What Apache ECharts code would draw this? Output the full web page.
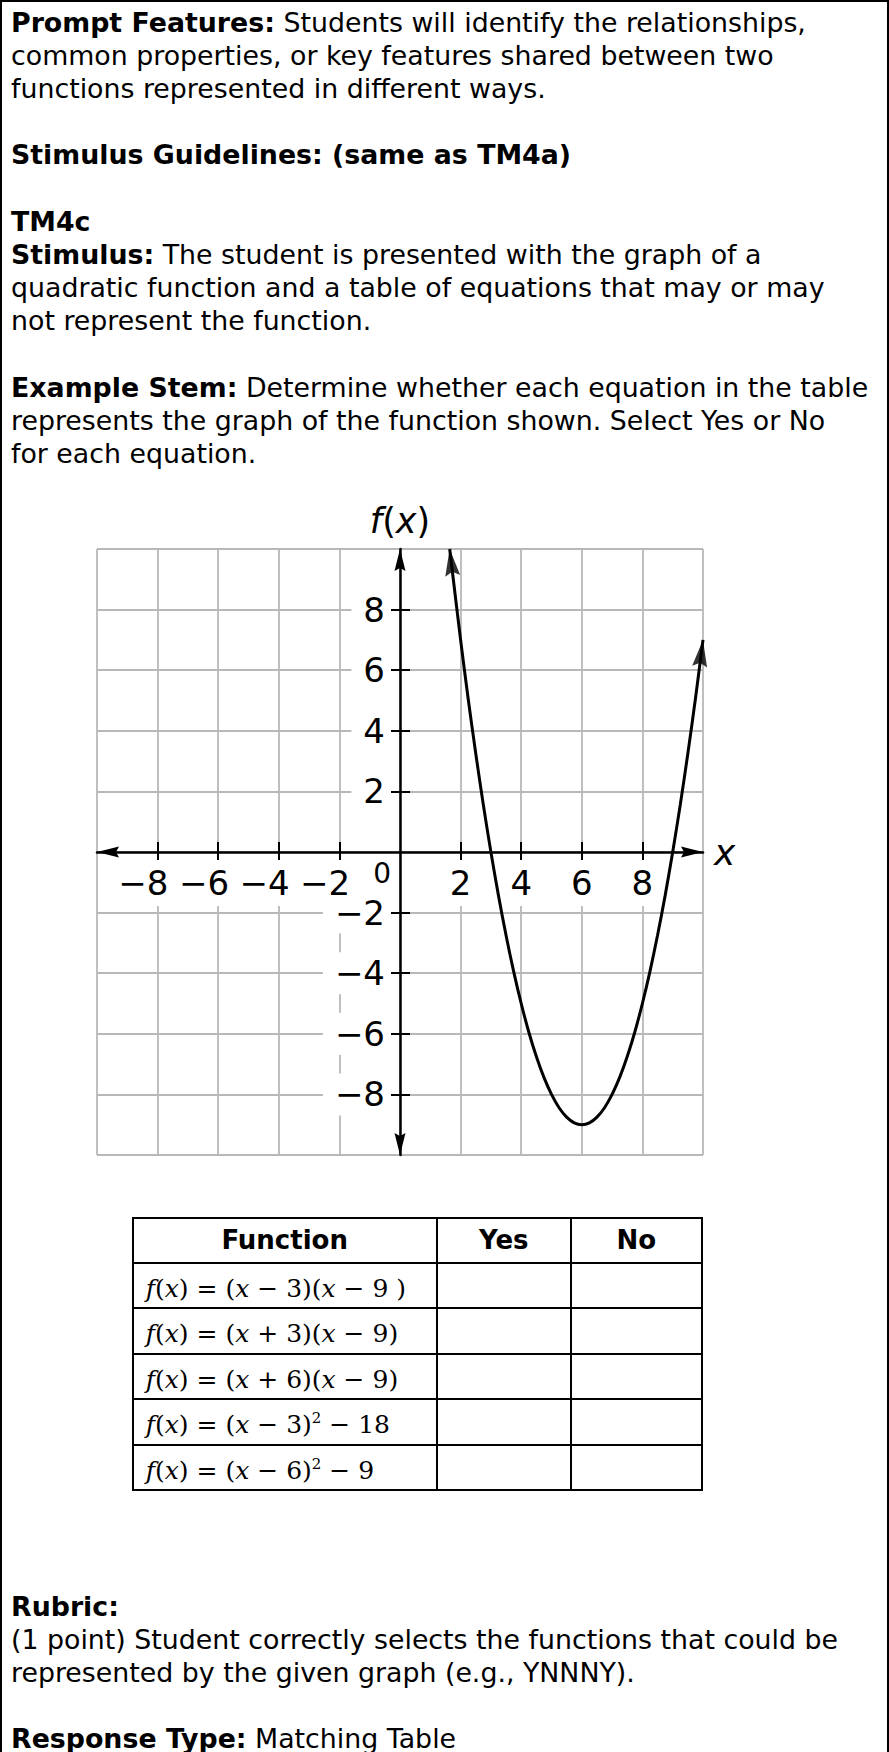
<!DOCTYPE html>
<html>
<head>
<meta charset="utf-8">
<script src="https://cdn.jsdelivr.net/npm/echarts@6/dist/echarts.min.js"></script>
<style>
  html, body { margin: 0; padding: 0; background: #fff; }
  body { width: 889px; height: 1752px; position: relative; overflow: hidden; color: #000;
         font-family: "DejaVu Sans", Verdana, sans-serif; }
  .frame { position: absolute; left: 0; top: 0; width: 889px; height: 1752px; box-sizing: border-box;
           border: 2px solid #000; border-bottom: none; }
  .txt { position: absolute; left: 11px; font-size: 26.8px; line-height: 33.2px; white-space: nowrap; }
  .txt div { height: 33.2px; }
  #chart { position: absolute; left: 0; top: 480px; width: 889px; height: 700px; }
  table.tbl { position: absolute; left: 131.7px; top: 1216.7px; border-collapse: collapse; table-layout: fixed; }
  table.tbl th, table.tbl td { border: 2px solid #000; padding: 0; }
  table.tbl th { height: 43px; font-family: "DejaVu Sans", Verdana, sans-serif; font-weight: bold;
                 font-size: 26px; text-align: center; vertical-align: middle; }
  table.tbl td { height: 43.5px; }
  table.tbl td.eq { font-family: "DejaVu Serif", serif; font-size: 25px; padding-left: 12px;
                    padding-top: 6px; box-sizing: border-box; white-space: nowrap; }
  table.tbl td.eq i { font-style: italic; }
  table.tbl td.eq sup { font-size: 15px; vertical-align: 10px; line-height: 0; }
</style>
</head>
<body>
<div class="frame"></div>

<div class="txt" style="top:5.5px">
  <div><b>Prompt Features:</b> Students will identify the relationships,</div>
  <div>common properties, or key features shared between two</div>
  <div>functions represented in different ways.</div>
  <div></div>
  <div><b>Stimulus Guidelines: (same as TM4a)</b></div>
  <div></div>
  <div><b>TM4c</b></div>
  <div><b>Stimulus:</b> The student is presented with the graph of a</div>
  <div>quadratic function and a table of equations that may or may</div>
  <div>not represent the function.</div>
  <div></div>
  <div><b>Example Stem:</b> Determine whether each equation in the table</div>
  <div>represents the graph of the function shown. Select Yes or No</div>
  <div>for each equation.</div>
</div>

<div id="chart"></div>

<table class="tbl" id="tbl">
  <colgroup><col style="width:304px"><col style="width:134.3px"><col style="width:130.7px"></colgroup>
</table>

<div class="txt" style="top:1589.5px">
  <div><b>Rubric:</b></div>
  <div>(1 point) Student correctly selects the functions that could be</div>
  <div>represented by the given graph (e.g., YNNNY).</div>
  <div></div>
  <div><b>Response Type:</b> Matching Table</div>
</div>

<script>
// Axis tick values and labels
const xTickValues = [-8, -6, -4, -2, 2, 4, 6, 8];
// Same labels; the first two are not neighbours, so ECharts' end-label overlap check keeps them all
const xLabelValues = [-8, -4, -6, -2, 2, 4, 6, 8];
const yTickValues = [-8, -6, -4, -2, 2, 4, 6, 8];
const originValue = [0];

// Points on the parabola, from the upper-left arrow to the upper-right arrow
const curveX = [1.64, 2, 2.25, 2.5, 2.75, 3, 3.25, 3.5, 3.75, 4, 4.25, 4.5, 4.75, 5, 5.25, 5.5, 5.75,
                6, 6.25, 6.5, 6.75, 7, 7.25, 7.5, 7.75, 8, 8.25, 8.5, 8.75, 9, 9.25, 9.5, 9.75, 10];
const curveY = [10, 7, 5.06, 3.25, 1.56, 0, -1.44, -2.75, -3.94, -5, -5.94, -6.75, -7.44, -8, -8.44, -8.75, -8.94,
                -9, -8.94, -8.75, -8.44, -8, -7.44, -6.75, -5.94, -5, -3.94, -2.75, -1.44, 0, 1.56, 3.25, 5.06, 7];

// Matching table
const tableHeaders = ['Function', 'Yes', 'No'];
const tableFunctions = [
  '<i>f</i>(<i>x</i>) = (<i>x</i> − 3)(<i>x</i> − 9 )',
  '<i>f</i>(<i>x</i>) = (<i>x</i> + 3)(<i>x</i> − 9)',
  '<i>f</i>(<i>x</i>) = (<i>x</i> + 6)(<i>x</i> − 9)',
  '<i>f</i>(<i>x</i>) = (<i>x</i> − 3)<sup>2</sup> − 18',
  '<i>f</i>(<i>x</i>) = (<i>x</i> − 6)<sup>2</sup> − 9'
];

(function buildTable() {
  const tbl = document.getElementById('tbl');
  let html = '<tr>' + tableHeaders.map(h => '<th>' + h + '</th>').join('') + '</tr>';
  tableFunctions.forEach(f => {
    html += '<tr><td class="eq">' + f + '</td><td></td><td></td></tr>';
  });
  tbl.insertAdjacentHTML('beforeend', html);
})();

const FONT = '"DejaVu Sans", Verdana, sans-serif';
const GRID_COLOR = '#b8b8b8';
const AXIS_ARROW = 'path://M0,0 L5.5,22 L0,19 L-5.5,22 Z';
const CURVE_ARROW = 'path://M0,0 L7.5,27 L0,23 L-7.5,27 Z';
const GRID_SIZE = 606;
const MID = -GRID_SIZE / 2;   // axis offset that puts an edge axis through the origin

const minus = v => (v < 0 ? '\u2212' + Math.abs(v) : String(v));

const chart = echarts.init(document.getElementById('chart'), null, { renderer: 'svg' });

const scale = { type: 'value', min: -10, max: 10, interval: 2 };
const tickStyle = { color: '#000', width: 2 };
const keepLabels = { showMinLabel: true, showMaxLabel: true, hideOverlap: false };

const option = {
  animation: false,
  grid: { left: 97, top: 69, width: GRID_SIZE, height: GRID_SIZE, containLabel: false, outerBoundsMode: 'none' },
  xAxis: [
    // main x-axis: arrowed line, downward ticks, labels
    Object.assign({}, scale, {
      position: 'bottom', offset: MID, z: 1,
      axisLine: { show: true, onZero: false, symbol: [AXIS_ARROW, AXIS_ARROW], symbolSize: [11, 22], symbolOffset: [11, -11],
                  lineStyle: { color: '#000', width: 2.5 } },
      axisTick: { show: true, customValues: xTickValues, length: 10, lineStyle: tickStyle },
      axisLabel: Object.assign({
        show: true, customValues: xLabelValues, margin: 8,
        // the spacer after a negative label keeps its digit centred on the tick
        formatter: v => (v < 0 ? '{n|' + minus(v) + '}{s|}' : '{n|' + v + '}'),
        rich: {
          n: { fontFamily: FONT, fontSize: 34, color: '#000', backgroundColor: '#fff', padding: [6, 3, 6, 3] },
          s: { width: 28.5 }
        }
      }, keepLabels),
      splitLine: { show: false },
      name: 'x', nameLocation: 'end', nameGap: 11,
      nameTextStyle: { fontFamily: FONT, fontSize: 36, fontStyle: 'italic', color: '#000', padding: [0, 0, 6, 0] }
    }),
    // upward half of the x ticks, and the origin label
    Object.assign({}, scale, {
      position: 'top', offset: MID, z: 1,
      axisLine: { show: false, onZero: false },
      axisTick: { show: true, customValues: xTickValues, length: 10, lineStyle: tickStyle },
      axisLabel: Object.assign({
        show: true, customValues: originValue, inside: true, margin: 7, align: 'right',
        fontFamily: FONT, fontSize: 28, color: '#000', padding: [0, 9, 0, 0]
      }, keepLabels),
      splitLine: { show: false }
    }),
    // vertical grid lines
    Object.assign({}, scale, {
      position: 'bottom', z: 0,
      axisLine: { show: false, onZero: false }, axisTick: { show: false }, axisLabel: { show: false },
      splitLine: { show: true, lineStyle: { color: GRID_COLOR, width: 1.8 } }
    })
  ],
  yAxis: [
    // main y-axis: arrowed line, leftward ticks, labels
    Object.assign({}, scale, {
      position: 'left', offset: MID, z: 1,
      axisLine: { show: true, onZero: false, symbol: [AXIS_ARROW, AXIS_ARROW], symbolSize: [11, 22], symbolOffset: [11, -11],
                  lineStyle: { color: '#000', width: 2.5 } },
      axisTick: { show: true, customValues: yTickValues, length: 10, lineStyle: tickStyle },
      axisLabel: Object.assign({
        show: true, customValues: yTickValues, margin: 9, formatter: minus,
        fontFamily: FONT, fontSize: 34, color: '#000', backgroundColor: '#fff', padding: [1, 6, 7, 12]
      }, keepLabels),
      splitLine: { show: false },
      name: '{i|f}({i|x})', nameLocation: 'end', nameGap: 11,
      nameTextStyle: { fontFamily: FONT, fontSize: 35, color: '#000',
                       rich: { i: { fontFamily: FONT, fontSize: 35, fontStyle: 'italic', color: '#000' } } }
    }),
    // rightward half of the y ticks
    Object.assign({}, scale, {
      position: 'right', offset: MID, z: 1,
      axisLine: { show: false, onZero: false },
      axisTick: { show: true, customValues: yTickValues, length: 10, lineStyle: tickStyle },
      axisLabel: { show: false },
      splitLine: { show: false }
    }),
    // horizontal grid lines
    Object.assign({}, scale, {
      position: 'left', z: 0,
      axisLine: { show: false, onZero: false }, axisTick: { show: false }, axisLabel: { show: false },
      splitLine: { show: true, lineStyle: { color: GRID_COLOR, width: 1.8 } }
    })
  ],
  series: [
    {
      type: 'line', xAxisIndex: 0, yAxisIndex: 0, z: 3,
      data: curveX.map((x, i) => [x, curveY[i]]),
      smooth: 0.3, symbol: 'none', clip: false,
      lineStyle: { color: '#000', width: 3 }
    },
    {
      // arrowheads at both open ends of the curve
      type: 'scatter', xAxisIndex: 0, yAxisIndex: 0, z: 4, clip: false,
      symbol: CURVE_ARROW, symbolSize: [15, 27],
      itemStyle: { color: '#000' },
      data: [
        { value: [curveX[0], curveY[0]], symbolRotate: 6.5, symbolOffset: [1.5, 13.4] },
        { value: [curveX[curveX.length - 1], curveY[curveY.length - 1]], symbolRotate: -7.1, symbolOffset: [-1.7, 13.4] }
      ]
    }
  ]
};

chart.setOption(option);
</script>
</body>
</html>
